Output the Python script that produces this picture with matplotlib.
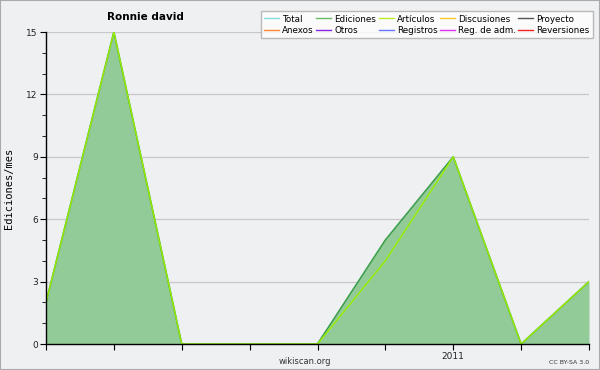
import matplotlib
matplotlib.use("Agg")
import matplotlib.pyplot as plt
from matplotlib.lines import Line2D
from matplotlib.patches import Rectangle

months = ["2010-07", "2010-08", "2010-09", "2010-10", "2010-11", "2010-12", "2011-01", "2011-02", "2011-03"]
tick_labels = ["", "", "", "", "", "", "2011", "", ""]
ediciones = [2, 15, 0, 0, 0, 5, 9, 0, 3]
articulos = [2, 15, 0, 0, 0, 4, 9, 0, 3]

legend_names = ["Total", "Ediciones", "Artículos", "Discusiones", "Proyecto",
                "Anexos", "Otros", "Registros", "Reg. de adm.", "Reversiones"]
legend_colors = ["#88dddd", "#66bb66", "#bbee22", "#ffcc22", "#555555",
                 "#ff8833", "#8822dd", "#6677ff", "#dd33ee", "#ee2222"]

bg = "#eff0f2"
fig = plt.figure(figsize=(6, 3.7), dpi=100, facecolor=bg)
fig.patches.append(Rectangle((0, 0), 1, 1, transform=fig.transFigure, fill=False,
                             edgecolor="#aaaaaa", linewidth=1.5))
ax = fig.add_axes([46/600, 1-344/370, (589-46)/600, (344-32)/370])
ax.set_facecolor(bg)

x = list(range(len(months)))
ax.fill_between(x, ediciones, 0, color="#93cb98", linewidth=0, zorder=2)
ax.plot(x, ediciones, color="#3c9f4c", linewidth=1.2, zorder=3)
ax.plot(x, articulos, color="#99ee00", linewidth=1.0, zorder=4)

ax.set_xlim(0, len(months)-1)
ax.set_ylim(0, 15)
ax.set_yticks([0, 3, 6, 9, 12, 15])
ax.set_yticks(range(0, 16), minor=True)
ax.set_xticks(x)
ax.set_xticklabels(tick_labels)
ax.grid(axis="y", which="major", color="#c8c8c8", linewidth=0.9, zorder=1)
ax.set_axisbelow(True)
for s in ["top", "right"]:
    ax.spines[s].set_visible(False)
for s in ["left", "bottom"]:
    ax.spines[s].set_color("black")
    ax.spines[s].set_linewidth(1.0)
    ax.spines[s].set_zorder(5)
ax.tick_params(axis="both", which="major", labelsize=6.5, length=4, width=0.8, pad=2, color="black", labelcolor="#222222")
ax.tick_params(axis="y", which="minor", length=3, width=0.6)
ax.set_ylabel("Ediciones/mes", fontsize=7.5, family="DejaVu Sans Mono", labelpad=9)

fig.text(145/600, 1-17/370, "Ronnie david", fontsize=7.5, fontweight="bold", ha="center", va="center")
fig.text(305/600, 1-361/370, "wikiscan.org", fontsize=6, ha="center", va="center", color="#333333")
fig.text(589/600, 1-362/370, "CC BY-SA 3.0", fontsize=4.5, ha="right", va="center", color="#333333")

handles = [Line2D([0], [0], color=c, linewidth=1) for c in legend_colors]
# reorder so that rows are filled first (matplotlib fills columns first)
order = []
for col in range(5):
    order += [col, col + 5]
leg = fig.legend([handles[i] for i in order], [legend_names[i] for i in order],
                 ncol=5, loc="upper right", bbox_to_anchor=(593/600, 1-11/370),
                 fontsize=6.3, frameon=True, fancybox=False, edgecolor="#aaaaaa",
                 handlelength=1.7, handletextpad=0.35, columnspacing=0.3,
                 labelspacing=0.25, borderpad=0.4, borderaxespad=0)
leg.get_frame().set_linewidth(1.0)
leg.get_frame().set_facecolor("white")

fig.savefig("out.png", dpi=100, facecolor=bg)
